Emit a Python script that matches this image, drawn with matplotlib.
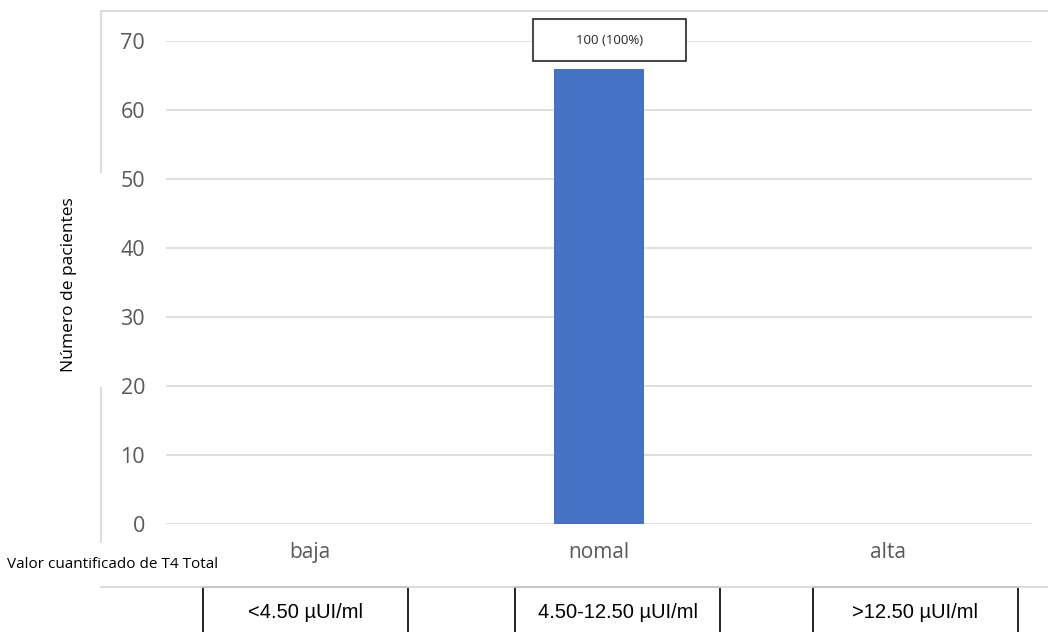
import matplotlib.pyplot as plt
from matplotlib.lines import Line2D
from matplotlib.patches import Rectangle

categories = ['baja', 'nomal', 'alta']
pacientes = [0, 66, 0]
bar_label = '100 (100%)'
rangos = ['<4.50 µUI/ml', '4.50-12.50 µUI/ml', '>12.50 µUI/ml']
yticks = [0, 10, 20, 30, 40, 50, 60, 70]

W, H = 1048, 632
fig = plt.figure(figsize=(W / 100, H / 100), dpi=100)
plt.rcParams['font.family'] = ['Open Sans', 'DejaVu Sans']


def px(x, y):
    # pixel position (from top-left) -> figure fraction
    return x / W, 1 - y / H


# axes box in pixels: left 166, right 1032, top 41, bottom 524
ax = fig.add_axes([166 / W, 1 - 524 / H, 866 / W, 483 / H])
x = range(len(categories))
ax.bar(x, pacientes, width=0.315, color='#4472C4', zorder=3)
ax.set_xlim(-0.5, 2.5)
ax.set_ylim(0, 70)
ax.set_yticks(yticks)
ax.yaxis.grid(True, color='#d9d9d9', linewidth=1.2)
ax.set_axisbelow(True)
for s in ax.spines.values():
    s.set_visible(False)
ax.tick_params(length=0, labelcolor='#595959')
ax.tick_params(axis='y', pad=15, labelsize=15.5)
ax.tick_params(axis='x', pad=13, labelsize=15)
ax.set_xticks(list(x))
ax.set_xticklabels(categories)

# value label box above the bar
i = 1
bw, bh = 153 / 288.7, 42 / 6.9
cx, cy = i + 0.035, pacientes[i] + 4.1
ax.add_patch(Rectangle((cx - bw / 2, cy - bh / 2), bw, bh, facecolor='white',
                       edgecolor='#262626', linewidth=1.2, clip_on=False, zorder=4))
ax.text(cx, cy, bar_label, ha='center', va='center', fontsize=9.5,
        color='#262626', zorder=5, clip_on=False)

fig.text(*px(69, 285), 'Número de pacientes', rotation=90, ha='center', va='center',
         fontsize=12.5, color='black')

# chart-area frame pieces
frame = '#d9d9d9'
segs = [((101, 11), (W, 11)), ((101, 11), (101, 172)), ((101, 388), (101, 542)),
        ((101, 587), (W, 587))]
for (x0, y0), (x1, y1) in segs:
    a, b = px(x0, y0)
    c, d = px(x1, y1)
    fig.add_artist(Line2D([a, c], [b, d], color=frame, linewidth=1.3))

fig.text(*px(113, 564), 'Valor cuantificado de T4 Total', ha='center', va='center',
         fontsize=11, color='black')

# range boxes under the categories
box_left = [203, 515, 813]
for left, txt in zip(box_left, rangos):
    a, b = px(left, 640)
    fig.add_artist(Rectangle((a, b), 205 / W, 53 / H, transform=fig.transFigure,
                             facecolor='white', edgecolor='black', linewidth=1.2))
    fig.text(*px(left + 102.5, 612), txt, ha='center', va='center', fontsize=14.5,
             family='Liberation Sans', color='black')

fig.savefig('out.png', dpi=100)
